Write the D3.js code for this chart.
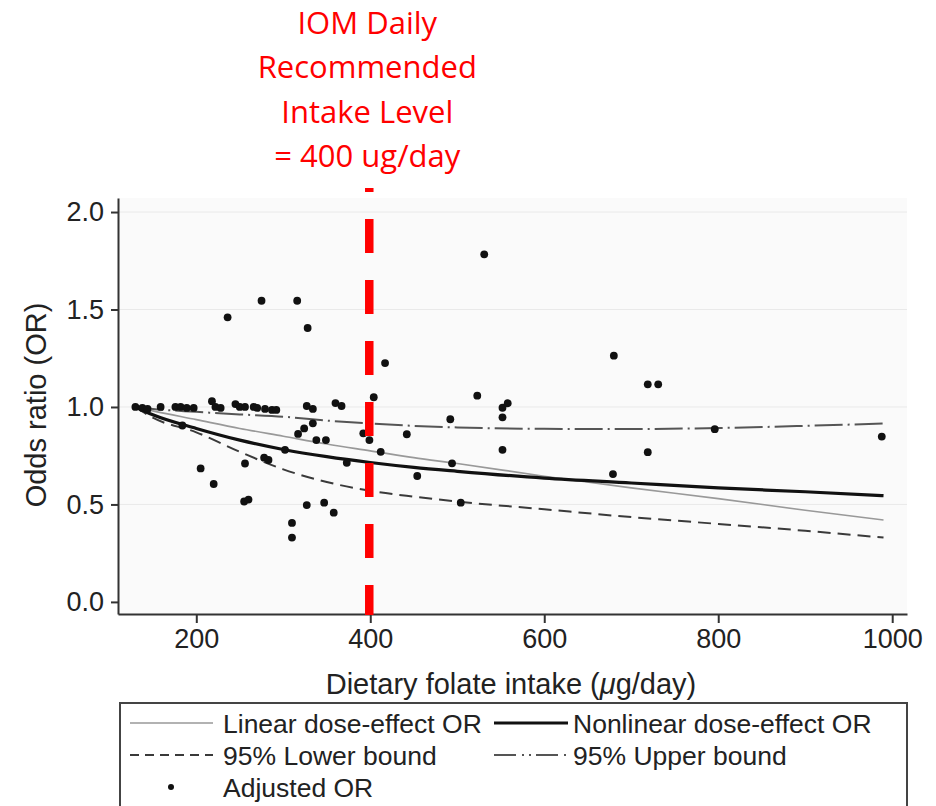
<!DOCTYPE html>
<html>
<head>
<meta charset="utf-8">
<title>folate OR</title>
<style>
body { margin: 0; background: #fff; }
svg { font-family: "Liberation Sans", Arial, sans-serif; display: block; }
.grid line { stroke: #e9e9e9; stroke-width: 1; }
.axis path, .axis line { stroke: #333; stroke-width: 2; }
.axis text { font-size: 27px; fill: #222; }
.title { font-size: 29px; fill: #222; }
.legend text { font-size: 26.5px; fill: #222; }
.note { font-family: "Open Sans", sans-serif; font-size: 31px; fill: #ff0000; }
</style>
</head>
<body>
<div id="chart"></div>
<script src="https://cdnjs.cloudflare.com/ajax/libs/d3/7.8.5/d3.min.js"></script>
<script>
// fitted curves
var curveIntake = [130, 150, 200, 250, 300, 350, 400, 450, 500, 600, 700, 800, 900, 990];
var linearOR    = [1.0, 0.98, 0.935, 0.89, 0.85, 0.81, 0.775, 0.74, 0.71, 0.645, 0.585, 0.53, 0.47, 0.42];
var nonlinearOR = [1.0, 0.96, 0.89, 0.83, 0.782, 0.745, 0.715, 0.69, 0.67, 0.635, 0.61, 0.585, 0.565, 0.545];
var lowerOR     = [1.0, 0.945, 0.87, 0.77, 0.68, 0.615, 0.57, 0.54, 0.515, 0.475, 0.435, 0.40, 0.365, 0.33];
var upperOR     = [1.0, 0.99, 0.975, 0.962, 0.95, 0.93, 0.915, 0.903, 0.895, 0.888, 0.887, 0.892, 0.903, 0.915];

// adjusted OR points
var dotIntake = [130, 138, 144, 159, 176, 182, 189, 197, 218, 222, 228, 245, 250, 256, 266, 270, 279, 287, 292,
  327, 334, 360, 367, 404, 236, 275, 316, 328, 417, 184, 205, 220, 255, 260, 256, 278, 283, 302,
  310, 310, 317, 324, 334, 338, 349, 327, 347, 358, 373, 392, 399, 412, 442,
  454, 492, 494, 504, 523, 531, 552, 558, 552, 552, 679, 680, 719, 731, 719, 796, 988];
var dotOR = [1.0, 0.995, 0.99, 1.0, 1.0, 1.0, 0.995, 0.995, 1.03, 1.0, 0.995, 1.015, 1.0, 1.0, 1.0, 0.995, 0.99, 0.985, 0.985,
  1.005, 0.99, 1.02, 1.005, 1.05, 1.46, 1.545, 1.545, 1.405, 1.225, 0.905, 0.685, 0.605, 0.515, 0.525, 0.71, 0.74, 0.728, 0.78,
  0.405, 0.33, 0.862, 0.89, 0.916, 0.83, 0.83, 0.497, 0.509, 0.458, 0.714, 0.865, 0.83, 0.77, 0.86,
  0.646, 0.937, 0.711, 0.509, 1.058, 1.783, 0.996, 1.019, 0.947, 0.78, 0.656, 1.263, 1.116, 1.116, 0.768, 0.886, 0.848];

var xTicks = [200, 400, 600, 800, 1000];
var yTicks = [0, 0.5, 1.0, 1.5, 2.0];
var refIntake = 400;
var noteLines = ["IOM Daily", "Recommended", "Intake Level", "= 400 ug/day"];

var W = 936, H = 806;
var plotL = 118, plotR = 907, plotT = 198, plotB = 614;

var svg = d3.select("#chart").append("svg")
  .attr("width", W)
  .attr("height", H);

var x = d3.scaleLinear().domain([110, 1017]).range([plotL, plotR]);
var y = d3.scaleLinear().domain([-0.062, 2.072]).range([plotB, plotT]);

// plot region
svg.append("rect")
  .attr("x", plotL).attr("y", plotT)
  .attr("width", plotR - plotL).attr("height", plotB - plotT)
  .attr("fill", "#fafafa");

svg.append("g").attr("class", "grid")
  .selectAll("line").data(yTicks.slice(1)).enter()
  .append("line")
  .attr("x1", plotL).attr("x2", plotR)
  .attr("y1", d => y(d)).attr("y2", d => y(d));

// axes
svg.append("g").attr("class", "axis")
  .attr("transform", "translate(0," + plotB + ")")
  .call(d3.axisBottom(x).tickValues(xTicks).tickFormat(d3.format("d")).tickSize(9).tickPadding(5).tickSizeOuter(0))
  .selectAll("text").attr("dy", "0.75em");

svg.append("g").attr("class", "axis")
  .attr("transform", "translate(" + plotL + ",0)")
  .call(d3.axisLeft(y).tickValues(yTicks).tickFormat(d3.format(".1f")).tickSize(7).tickPadding(7).tickSizeOuter(0));

var xt = svg.append("text").attr("class", "title")
  .attr("x", 511).attr("y", 694)
  .attr("text-anchor", "middle");
xt.append("tspan").text("Dietary folate intake (");
xt.append("tspan").attr("font-style", "italic").text("\u03bc");
xt.append("tspan").text("g/day)");

svg.append("text").attr("class", "title")
  .attr("transform", "translate(46,405) rotate(-90)")
  .attr("text-anchor", "middle")
  .text("Odds ratio (OR)");

// curves
var curveData = function(vals) {
  return curveIntake.map((v, i) => [v, vals[i]]);
};
var line = d3.line()
  .x(d => x(d[0]))
  .y(d => y(d[1]))
  .curve(d3.curveMonotoneX);

var series = [
  {vals: upperOR, stroke: "#555", width: 2, dash: "28,5,2,5", key: "22,6,2,5,2,5"},
  {vals: lowerOR, stroke: "#3a3a3a", width: 2, dash: "13,7", key: "9,6"},
  {vals: linearOR, stroke: "#999", width: 1.6, dash: null, key: null},
  {vals: nonlinearOR, stroke: "#111", width: 3.2, dash: null, key: null}
];

svg.append("g").selectAll("path").data(series).enter()
  .append("path")
  .attr("d", d => line(curveData(d.vals)))
  .attr("fill", "none")
  .attr("stroke", d => d.stroke)
  .attr("stroke-width", d => d.width)
  .attr("stroke-dasharray", d => d.dash);

svg.append("g").selectAll("circle").data(dotIntake).enter()
  .append("circle")
  .attr("cx", d => x(d))
  .attr("cy", (d, i) => y(dotOR[i]))
  .attr("r", 3.9)
  .attr("fill", "#111");

// reference line + note
svg.append("line")
  .attr("x1", x(refIntake) - 1).attr("x2", x(refIntake) - 1)
  .attr("y1", 188).attr("y2", plotB + 1)
  .attr("stroke", "#ff0000")
  .attr("stroke-width", 8.5)
  .attr("stroke-dasharray", "34,27")
  .attr("stroke-dashoffset", 30);

svg.append("g").selectAll("text").data(noteLines).enter()
  .append("text").attr("class", "note")
  .attr("x", x(refIntake) - 3)
  .attr("y", (d, i) => 34 + i * 44.4)
  .attr("text-anchor", "middle")
  .text(d => d);

// legend
var lg = svg.append("g").attr("class", "legend");
lg.append("rect")
  .attr("x", 120).attr("y", 703)
  .attr("width", 787).attr("height", 130)
  .attr("fill", "#fff").attr("stroke", "#444").attr("stroke-width", 2);

var legendItems = [
  {label: "Linear dose-effect OR", x0: 130, x1: 213, tx: 223, ty: 723, s: series[2]},
  {label: "Nonlinear dose-effect OR", x0: 494, x1: 568, tx: 573, ty: 723, s: series[3]},
  {label: "95% Lower bound", x0: 130, x1: 213, tx: 223, ty: 755, s: series[1]},
  {label: "95% Upper bound", x0: 494, x1: 568, tx: 573, ty: 755, s: series[0]}
];
legendItems.forEach(function(it) {
  lg.append("line")
    .attr("x1", it.x0).attr("x2", it.x1)
    .attr("y1", it.ty).attr("y2", it.ty)
    .attr("stroke", it.s.stroke)
    .attr("stroke-width", it.s.width)
    .attr("stroke-dasharray", it.s.key);
  lg.append("text")
    .attr("x", it.tx).attr("y", it.ty)
    .attr("dy", "0.36em")
    .text(it.label);
});
lg.append("circle").attr("cx", 171).attr("cy", 787).attr("r", 3).attr("fill", "#111");
lg.append("text").attr("x", 223).attr("y", 787).attr("dy", "0.36em").text("Adjusted OR");
</script>
</body>
</html>
